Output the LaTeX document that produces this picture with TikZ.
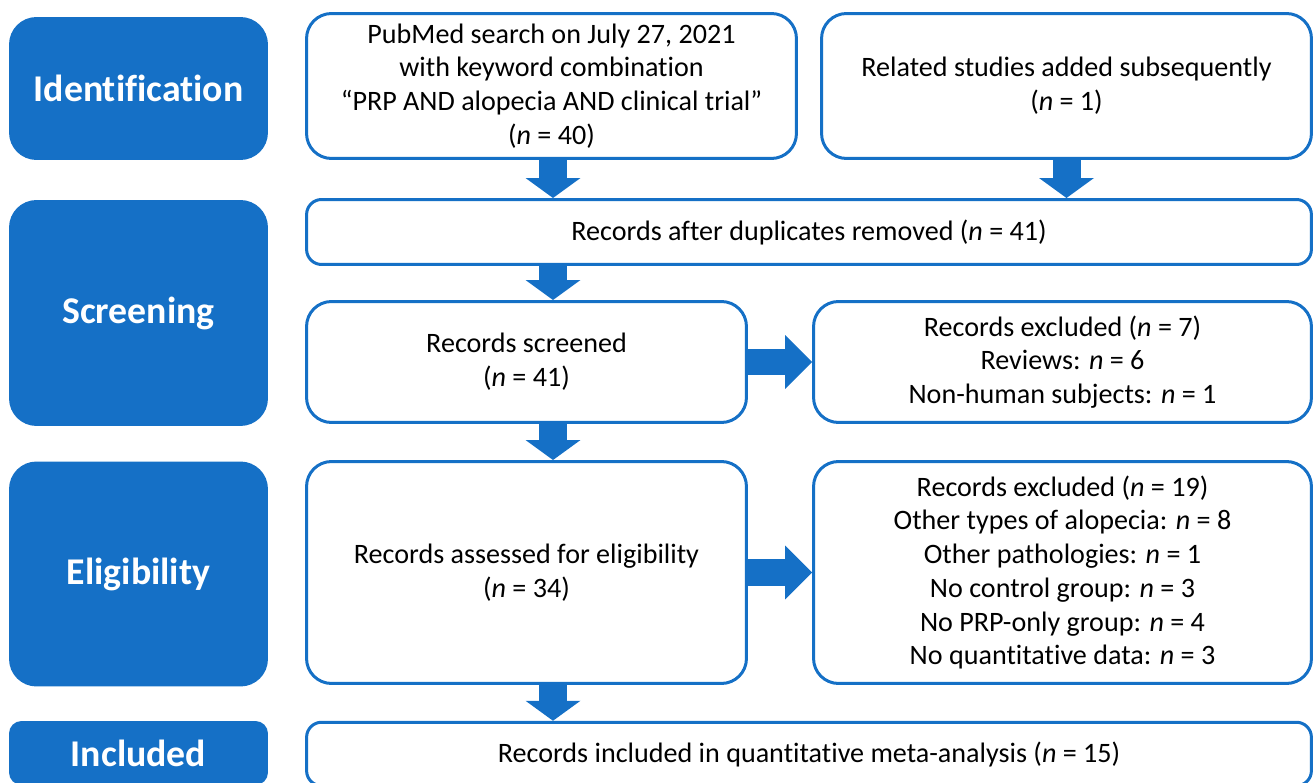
\documentclass[tikz,border=0pt]{standalone}
\usepackage{fontspec}
\setmainfont{Carlito}[Ligatures=NoCommon]
\usetikzlibrary{arrows.meta}
\definecolor{prismablue}{RGB}{21,112,198}
\newcommand{\ncount}{\textit{n}}
\tikzset{
	phase/.style={rectangle, rounded corners=0.55cm, fill=prismablue, text=white,
		minimum width=5.18cm, font=\fontsize{21.5}{25}\selectfont\bfseries},
	record/.style={rectangle, rounded corners=0.5cm, draw=prismablue, line width=0.06cm,
		fill=white, align=center, inner sep=0pt, font=\fontsize{16}{19.2}\selectfont},
	flatrecord/.style={record, rounded corners=0.3cm},
	downarrow/.style={draw=prismablue, line width=0.56cm,
		-{Triangle[length=0.4cm, width=1.1cm, line width=0pt]}},
	rightarrow/.style={draw=prismablue, line width=0.54cm,
		-{Triangle[length=0.54cm, width=1.08cm, line width=0pt]}},
}
\begin{document}
\begin{tikzpicture}[x=0.02cm, y=-0.02cm]
	\useasboundingbox (0,0) rectangle (1315,783);
	\clip (0,0) rectangle (1315,783);
	% Phases
	\node[phase, minimum height=2.86cm] (ident) at (138.5,88.5) {Identification};
	\node[phase, minimum height=4.52cm] (screen) at (138.5,313) {Screening};
	\node[phase, minimum height=4.5cm] (elig) at (138.5,574) {Eligibility};
	\node[phase, minimum height=1.28cm, rounded corners=0.25cm] (incl) at (138.5,753) {Included};
	% Records
	\node[record, minimum width=9.8cm, minimum height=2.9cm] (pub) at (551.5,86)
		{PubMed search on July 27, 2021\\with keyword combination\\“PRP AND alopecia AND clinical trial”\\(\ncount{} = 40)};
	\node[record, minimum width=9.8cm, minimum height=2.9cm] (rel) at (1066.5,86)
		{Related studies added subsequently\\(\ncount{} = 1)};
	\node[flatrecord, minimum width=20.1cm, minimum height=1.3cm] (dup) at (809,232)
		{Records after duplicates removed (\ncount{} = 41)};
	\node[record, minimum width=8.8cm, minimum height=2.42cm] (scr) at (526.5,362)
		{Records screened\\(\ncount{} = 41)};
	\node[record, minimum width=9.96cm, minimum height=2.42cm] (exc1) at (1062.5,362)
		{Records excluded (\ncount{} = 7)\\Reviews: \ncount{} = 6\\Non-human subjects: \ncount{} = 1};
	\node[record, minimum width=8.8cm, minimum height=4.44cm] (ass) at (526.5,572.5)
		{Records assessed for eligibility\\(\ncount{} = 34)};
	\node[record, minimum width=9.96cm, minimum height=4.44cm] (exc2) at (1062.5,572.5)
		{Records excluded (\ncount{} = 19)\\Other types of alopecia: \ncount{} = 8\\Other pathologies: \ncount{} = 1\\No control group: \ncount{} = 3\\No PRP-only group: \ncount{} = 4\\No quantitative data: \ncount{} = 3};
	\node[flatrecord, minimum width=20.1cm, minimum height=1.27cm] (inc) at (809,754)
		{Records included in quantitative meta-analysis (\ncount{} = 15)};
	% Arrows
	\coordinate (col) at (553,0);
	\draw[downarrow] (col |- pub.south) -- (col |- dup.north);
	\draw[downarrow] (rel.south) -- (rel.south |- dup.north);
	\draw[downarrow] (col |- dup.south) -- (col |- scr.north);
	\draw[rightarrow] (scr.east) -- (exc1.west);
	\draw[downarrow] (col |- scr.south) -- (col |- ass.north);
	\draw[rightarrow] (ass.east) -- (exc2.west);
	\draw[downarrow] (col |- ass.south) -- (col |- inc.north);
\end{tikzpicture}
\end{document}
